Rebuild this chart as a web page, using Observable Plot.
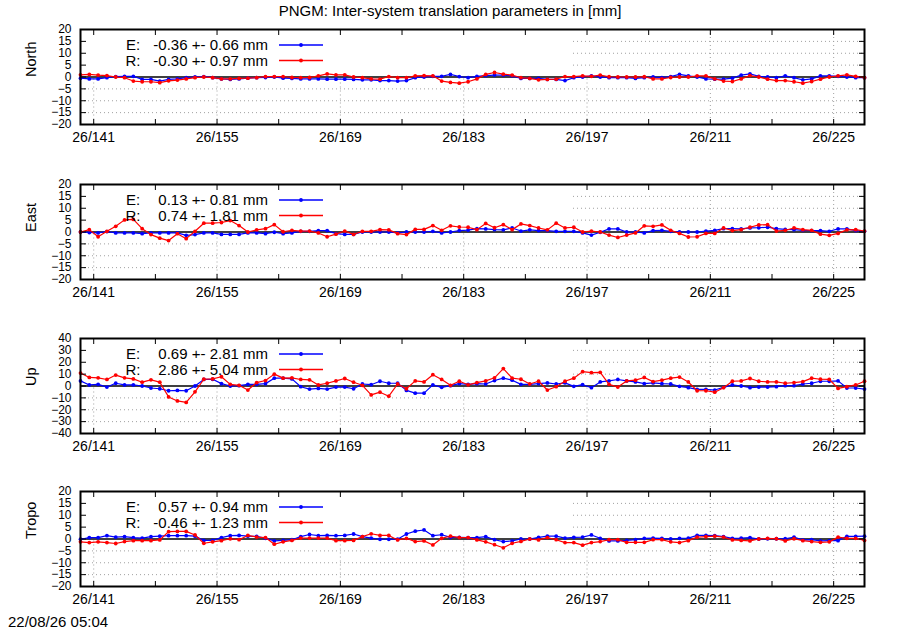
<!DOCTYPE html>
<html>
<head>
<meta charset="utf-8">
<script src="https://cdn.jsdelivr.net/npm/d3@7"></script>
<script src="https://cdn.jsdelivr.net/npm/@observablehq/plot@0.6"></script>
<style>
  body { margin: 0; background: #fff; font-family: "Liberation Sans", Arial, sans-serif; }
  #page { position: relative; width: 900px; height: 630px; overflow: hidden; background: #fff; }
  #title { position: absolute; top: 2px; left: 0; width: 900px; text-align: center; font-size: 15px; }
  #stamp { position: absolute; left: 8px; top: 613px; font-size: 15px; }
  .panel { position: absolute; left: 0; }
</style>
</head>
<body>
<div id="page">
  <div id="title">PNGM: Inter-system translation parameters in [mm]</div>
  <div id="stamp">22/08/26 05:04</div>
</div>
<script>
// daily solutions, first epoch at day 139.5 of 2026
const firstDay = 139.5
const lastDay = 228.5

const northE = [-0.5,-0.8,-0.8,-0.3,0.2,0.3,0.3,-1,-1,-1.7, -1,-0.8,-0.3,0,0.2,-0.3,-0.8,-1,-0.8,-0.5,
  -0.3,-0.2,0,-0.5,-0.6,-0.8,-0.8,-0.8,-0.9,-0.9, -0.9,-1,-1.2,-1.2,-1.5,-1.5,-1.7,-1.5,-0.3,0,
  0.3,0.3,1.1,0.2,
  -0.3,0.3,0.6,0.8,0.8,0.5,-0.6,-0.6,-0.6,-1, -1,-1.5,-0.3,0,0.5,0,-0.3,-0.3,-0.3,-0.6,
  -0.3,0,-0.3,0.2,1.1,0.5,0,-0.8,-0.9,-0.9, -0.5,0.8,1.3,0.3,0,-0.3,0.5,-0.3,-1.2,-0.8,
  0.5,0.5,0.3,0,-0.3,-0.3]
const northR = [0.9,1.1,0.8,0.6,0,-0.3,-1.7,-2,-2,-2.4, -1.6,-1.3,-0.8,-0.3,0,-0.3,-0.8,-0.8,-0.6,-0.5,
  -0.3,0.2,0.2,0.2,-0.2,-0.3,-0.2,0.5,1.3,0.9, 0.9,0,-0.3,-0.8,-0.9,0.2,-0.3,-0.3,0.5,0.6,
  0.5,-1.7,-2.3,-2.6,
  -2,-0.8,1.1,1.9,1.2,0.8,-0.3,-0.6,-1.2,-1, -0.9,0.2,0.2,0.5,0.3,0.8,0.1,0,0,0,
  0.1,-0.8,-0.8,-0.2,0,0,0.5,0.5,-0.8,-1.7, -1.9,-0.8,0.6,0,-0.9,-1.5,-1.5,-2,-2.6,-1.9,
  -0.9,0,0.5,0.9,0.3,-0.3]

const eastE = [0,-0.2,-0.4,0.2,-0.4,-0.4,-0.4,-0.7,-0.4,-0.4, -0.4,-0.4,-1.4,-1.1,-0.4,-0.4,-1,-1,-1,-0.4,
  -0.4,-0.7,-0.1,-0.7,-0.4,0.3,0.3,0.6,0.6,-0.7, -1,-1,0,0,0,0,-0.4,0,0,0,
  0.3,-0.4,0,0.6,
  0.8,1.4,1.3,1,0.9,1.7,0.4,0.9,0.6,0.6, 0.3,0.3,0.3,-0.4,-1.3,-0.1,1.3,1.3,0,0,
  -0.4,0.6,0.7,0.3,0,0,0,0.4,0.7,1.4, 1.4,1.3,1.7,1.8,2,1.4,1.1,1,0.7,0.6,
  0.6,0.3,1.3,1.3,0.6,0.3]
const eastR = [0,1,-2,0.3,2.4,5.1,5.3,1.4,-1.1,-2.6, -3.6,-0.7,-2.8,0.3,3.7,3.7,4,4.8,2.7,0,
  0.9,1.4,3.1,0.1,0.7,0.4,0.4,-0.4,-2,-0.9, 0.4,-1,0.3,0.3,1,0.9,-0.7,-1.1,1.1,1.1,
  2.7,0.7,2.6,2.1,
  2,1,3.6,1.8,3.1,1,3.4,2.7,1.7,0.9, 3.7,1.7,2,0,0.4,0,-1.3,-2.3,-1.3,-0.4,
  2.6,2.4,3,0.7,-0.6,-2.1,-2,-0.6,-0.6,1.7, 0.6,1,2,3,3.1,0.4,0.7,1.7,1,0.7,
  -0.9,-1.4,-0.6,0.9,1,0.4]

const upE = [4.3,0.9,1.4,-0.9,2.3,0.9,0.9,0,-1.7,-2.3, -4,-3.7,-4,0,5.5,5.7,2,0,0.3,1.4,
  1.4,2,6.6,6.6,6,-0.6,-2.6,-2,-2.6,-0.9, -0.9,-2.3,1.7,1.1,4,2.3,2.3,-3.7,-6,-6,
  0.9,-1.1,0.3,2,
  1.4,2,1.7,4.6,6.6,4.9,1.4,1.4,2,2.6, 1.7,2.6,-0.3,1.1,-1.4,3.4,4.3,5.5,4.3,3.4,
  2,2.6,2,1.7,-0.3,-1.4,-2.9,-2.9,-3.4,-1.1, 0.9,0,-1.4,-0.9,-0.9,-0.6,0.3,0.3,1.7,2.3,
  4,4,4.3,-1.7,-1.7,-2.6]
const upR = [10.9,7.2,6.9,5.5,9.2,6.9,6,3.2,5.2,3.2, -9.2,-12.6,-13.8,-4.9,5.7,6,7.8,1.4,0.6,-3.4,
  2.9,4.6,10,6.6,6.9,5.5,5.2,0.9,2.3,4.3, 6.3,3.2,0.6,-7.5,-5.2,-8.6,1.7,-2.3,4.3,3.4,
  9.5,5.5,0.6,4,
  1,2.9,4.3,6.9,14.7,6.6,5.7,1.7,4,-3.4, -0.6,4,6.6,12.1,11.2,11.5,1.4,-0.9,4.3,4.9,
  7.2,3.7,4.9,6.6,7.5,3.4,-4,-4,-5.2,-1.4, 4,4.3,6.3,4,3.4,3.4,2.3,2.9,3.7,6.6,
  5.7,5.5,-2,-0.6,0.9,4]

const tropoE = [-0.1,0.6,0.6,1.4,0.8,1,0.6,0.4,1,1.2, 1.4,1.4,1.4,1.2,-0.6,-0.6,0.6,1.4,1.5,1.2,
  1.1,0.3,-0.8,-0.6,-0.3,1,1.9,1.4,1.5,1.4, 1.5,2.1,1,0.4,-0.1,-0.1,-0.1,2.1,3.3,3.8,
  1.4,1.8,0.7,0.7,
  0.6,0.6,1,-0.3,-1.1,-0.8,0,0,0.7,1.2, 1.2,0.4,0.7,0.8,1.7,0.3,-0.8,-0.8,-0.6,-0.3,
  0.3,0.4,0.3,0,0.3,0.4,1.5,1.5,1.4,1, 0.3,0.4,0.6,0,0.1,0.1,0.1,0.8,-0.4,-0.3,
  -0.8,-0.7,-0.7,1.1,1.1,1.2]
const tropoR = [-1.2,-1.5,-1.2,-1.5,-1.9,-1.1,-0.7,-0.7,-0.7,-0.4, 3.1,3.2,3.2,1.7,-1.8,-1.2,-0.7,0.1,-0.3,1.5,
  0.8,0.6,-2.2,-1.2,-0.6,0.4,0.4,0.4,0.4,-0.7, -0.7,-0.6,1,2.2,1.5,1.5,-0.4,0.3,-1.1,-0.8,
  -2.5,0.3,1.2,0.6,
  0.6,-0.4,-1.2,-2.4,-3.7,-1.8,-1,0,-0.4,0.6, -0.3,-1.5,-1.5,-2.6,-1.5,-1.1,-0.3,-0.3,-1.4,-1.4,
  -1.4,-0.3,-0.3,-1.2,-1.5,-0.7,0.8,1,1.2,0.8, -0.4,-0.6,-0.8,0,0.3,0.1,-0.8,0.1,-0.7,-1.1,
  -1.4,-1.2,0.8,0.3,0.3,-0.6]

// legend statistics (mean +- rms)
const componentNames = ["North", "East", "Up", "Tropo"]
const statsE = ["-0.36 +- 0.66 mm", "0.13 +- 0.81 mm", "0.69 +- 2.81 mm", "0.57 +- 0.94 mm"]
const statsR = ["-0.30 +- 0.97 mm", "0.74 +- 1.81 mm", "2.86 +- 5.04 mm", "-0.46 +- 1.23 mm"]
const yLimits = [20, 20, 40, 20]
const ySteps = [5, 5, 10, 5]

const tickDays = d3.range(141, 229, 7)
const labelDays = d3.range(141, 229, 14)

const panelTops = [29, 184, 338, 491]
const mL = 80, mR = 36, mT = 6, mB = 26, plotH = 95
const keyWidth = 493   // the gnuplot key box hides the grid in the upper left
const font = "Liberation Sans, Arial, Helvetica, sans-serif"

const seriesE = [northE, eastE, upE, tropoE]
const seriesR = [northR, eastR, upR, tropoR]

const gridStyle = {stroke: "#a0a0a0", strokeWidth: 1, strokeDasharray: "1,3"}

function keyMark(i) {
  const rows = [["E:", statsE[i], "blue"], ["R:", statsR[i], "red"]]
  return (index, scales, values, dims) => {
    const g = d3.create("svg:g").attr("font-size", 15).attr("font-family", font)
    rows.forEach(([lab, txt, col], k) => {
      const y = dims.marginTop + 16 + k * 15.5
      g.append("text").attr("x", 133).attr("y", y).attr("dy", "0.35em").attr("fill", "black").text(lab)
      g.append("text").attr("x", 268).attr("y", y).attr("dy", "0.35em").attr("text-anchor", "end").attr("fill", "black").text(txt)
      g.append("line").attr("x1", 279).attr("x2", 323).attr("y1", y).attr("y2", y).attr("stroke", col).attr("stroke-width", 1.3)
      g.append("circle").attr("cx", 301).attr("cy", y).attr("r", 1.9).attr("fill", col)
    })
    return g.node()
  }
}

componentNames.forEach((name, i) => {
  const data = seriesE[i].map((v, k) => ({day: firstDay + k, E: v, R: seriesR[i][k]}))
  const lim = yLimits[i]
  const yTicks = d3.range(-lim, lim + 1, ySteps[i])
  const upper = yTicks.filter(v => v > 0 && v < lim)
  const lower = yTicks.filter(v => v < 0 && v > -lim)
  // vertical grid left of the key box edge is visible only below the zero line
  const hiddenX = labelDays.filter(d => d - firstDay < keyWidth / (800 - 16) * (lastDay - firstDay) * 1.05)
  const openX = labelDays.filter(d => !hiddenX.includes(d))

  const chart = Plot.plot({
    width: 900,
    height: mT + plotH + mB,
    marginLeft: mL, marginRight: mR, marginTop: mT, marginBottom: mB,
    style: {fontFamily: font, fontSize: "14px", color: "black", background: "transparent", overflow: "visible"},
    x: {domain: [firstDay, lastDay]},
    y: {domain: [-lim, lim]},
    marks: [
      Plot.ruleX(openX, gridStyle),
      Plot.ruleX(hiddenX, {...gridStyle, insetTop: plotH / 2 + 2}),
      Plot.ruleY(lower, gridStyle),
      Plot.ruleY(upper, {...gridStyle, insetLeft: keyWidth}),
      Plot.ruleY([0], {stroke: "black", strokeWidth: 1.5}),
      Plot.line(data, {x: "day", y: "E", stroke: "blue", strokeWidth: 1.2}),
      Plot.dot(data, {x: "day", y: "E", fill: "blue", r: 1.9}),
      Plot.line(data, {x: "day", y: "R", stroke: "red", strokeWidth: 1.2}),
      Plot.dot(data, {x: "day", y: "R", fill: "red", r: 1.9}),
      keyMark(i),
      Plot.frame({stroke: "black", strokeWidth: 2}),
      Plot.axisX(tickDays, {anchor: "bottom", tickSize: 5, dy: -5, fill: "none", label: null}),
      Plot.axisX(tickDays, {anchor: "top", tickSize: 5, dy: 5, fill: "none", label: null}),
      Plot.axisX(labelDays, {anchor: "bottom", tickSize: 0, tickPadding: 8, tickFormat: d => `26/${d}`, label: null}),
      Plot.axisY(yTicks, {anchor: "left", tickSize: 6, dx: 6, fill: "none", label: null}),
      Plot.axisY(yTicks, {anchor: "right", tickSize: 6, dx: -6, fill: "none", label: null}),
      Plot.axisY(yTicks, {anchor: "left", tickSize: 0, tickPadding: 9, fontSize: 12, label: null}),
      Plot.text([name], {frameAnchor: "left", dx: -49, rotate: -90, fontSize: 14.5})
    ]
  })
  chart.classList.add("panel")
  chart.style.top = (panelTops[i] - mT) + "px"
  document.getElementById("page").append(chart)
})
</script>
</body>
</html>
